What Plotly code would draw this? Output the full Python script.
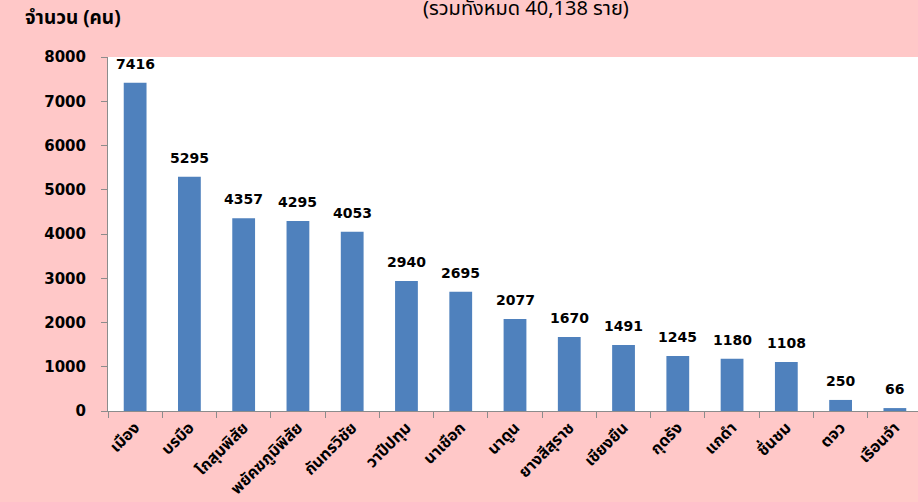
import plotly.graph_objects as go

categories = ["เมือง", "บรบือ", "โกสุมพิสัย", "พยัคฆภูมิพิสัย", "กันทรวิชัย", "วาปีปทุม",
              "นาเชือก", "นาดูน", "ยางสีสุราช", "เชียงยืน", "กุดรัง", "แกดำ", "ชื่นชม",
              "ตจว", "เรือนจำ"]
values = [7416, 5295, 4357, 4295, 4053, 2940, 2695, 2077, 1670, 1491, 1245, 1180, 1108, 250, 66]
y_ticks = [0, 1000, 2000, 3000, 4000, 5000, 6000, 7000, 8000]
title_text = "(รวมทั้งหมด 40,138 ราย)"
y_title = "จำนวน (คน)"

PINK = "#FFC8C8"
BLUE = "#4F81BD"
FONT = "Tahoma, 'Noto Sans Thai', 'DejaVu Sans', sans-serif"
NUMFONT = "'DejaVu Sans', sans-serif"

fig = go.Figure(go.Bar(
    x=categories, y=values,
    marker=dict(color=BLUE, line=dict(width=0)),
    width=0.42,
    cliponaxis=False,
    hoverinfo="x+y",
))

value_labels = [
    dict(x=c, y=v, xref="x", yref="y", text=f"<b>{v}</b>", showarrow=False,
         xanchor="center", yanchor="bottom", yshift=9,
         font=dict(size=14, color="#000000", family=NUMFONT))
    for c, v in zip(categories, values)
]

fig.update_layout(
    width=922, height=502,
    paper_bgcolor=PINK, plot_bgcolor="#FFFFFF",
    margin=dict(l=108, r=0, t=57, b=91, autoexpand=False),
    showlegend=False,
    font=dict(family=FONT, color="#000000"),
    annotations=[
        dict(text=title_text, xref="paper", yref="paper", x=0.513, y=1.135,
             xanchor="center", yanchor="middle", showarrow=False,
             font=dict(size=20, color="#000000")),
        dict(text=f"<b>{y_title}</b>", xref="paper", yref="paper", x=-0.104, y=1.11,
             xanchor="left", yanchor="middle", showarrow=False,
             font=dict(size=19, color="#000000")),
    ] + value_labels,
)

fig.update_xaxes(
    automargin=False,
    showline=True, linecolor="#8C8C8C", linewidth=1,
    ticks="outside", tickson="boundaries", ticklen=6, tickcolor="#8C8C8C",
    tickangle=-45,
    tickfont=dict(size=16, color="#000000", family=FONT),
    tickvals=categories, ticktext=[f"<b>{c}</b>" for c in categories],
    showgrid=False,
)
fig.update_yaxes(
    automargin=False,
    range=[0, 8000], tickvals=y_ticks,
    ticktext=[f"<b>{t}</b>" for t in y_ticks],
    showline=True, linecolor="#8C8C8C", linewidth=1,
    ticks="outside", ticklen=6, tickcolor="#8C8C8C",
    ticklabelstandoff=12,
    tickfont=dict(size=15, color="#000000", family=NUMFONT),
    showgrid=False, zeroline=False,
)

fig.write_html(
    "out.html",
    config={"displayModeBar": False},
    post_script=("document.body.style.margin='0';document.body.style.overflow='hidden';"
                 "document.body.style.background='" + PINK + "';"),
)
